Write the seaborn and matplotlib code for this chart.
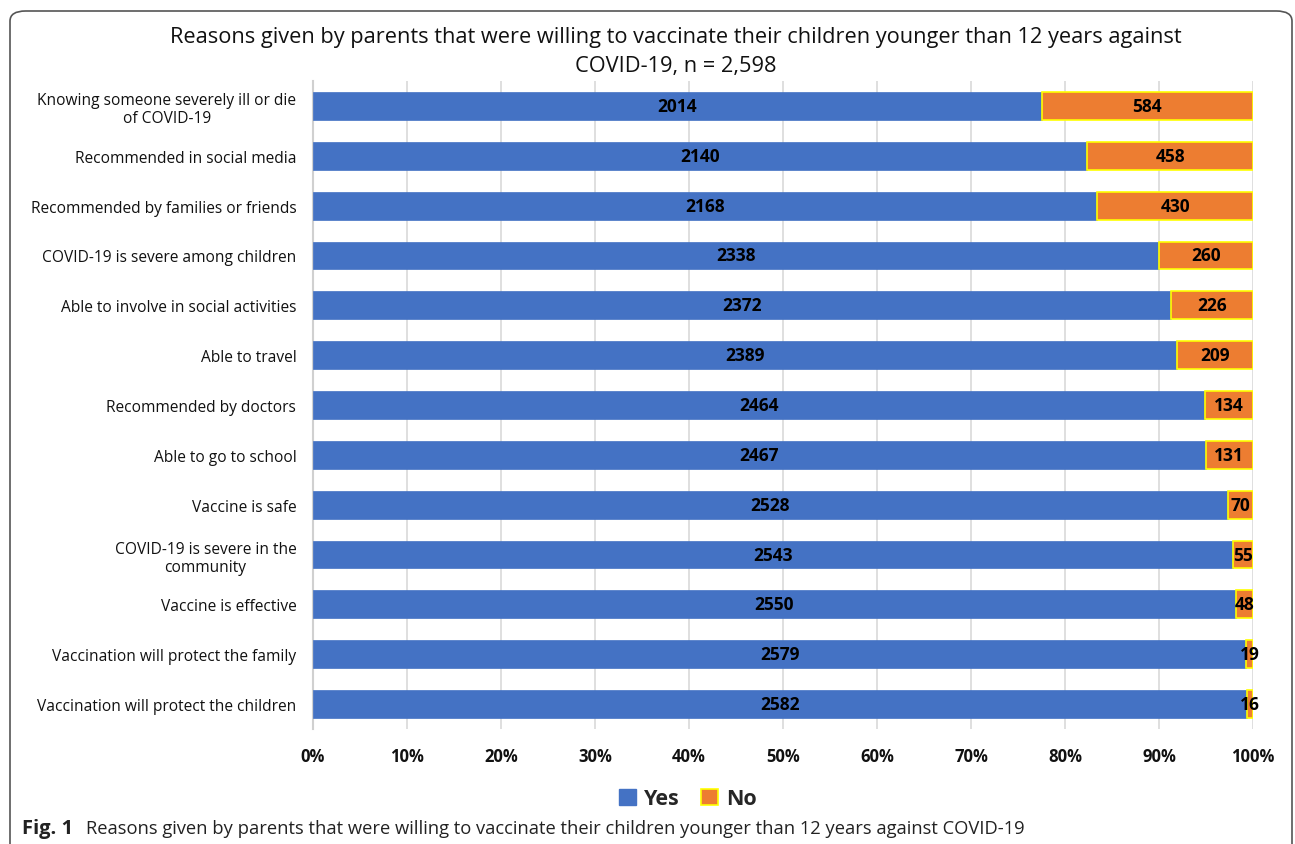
import matplotlib
matplotlib.use("Agg")
import matplotlib.pyplot as plt
from matplotlib.patches import Patch, FancyBboxPatch
from matplotlib.ticker import FuncFormatter
import seaborn as sns
import pandas as pd
import numpy as np

reasons = [
    "Knowing someone severely ill or die\nof COVID-19",
    "Recommended in social media",
    "Recommended by families or friends",
    "COVID-19 is severe among children",
    "Able to involve in social activities",
    "Able to travel",
    "Recommended by doctors",
    "Able to go to school",
    "Vaccine is safe",
    "COVID-19 is severe in the\ncommunity",
    "Vaccine is effective",
    "Vaccination will protect the family",
    "Vaccination will protect the children",
]
yes_counts = [2014, 2140, 2168, 2338, 2372, 2389, 2464, 2467, 2528, 2543, 2550, 2579, 2582]
no_counts = [584, 458, 430, 260, 226, 209, 134, 131, 70, 55, 48, 19, 16]

BLUE = "#4472C4"
ORANGE = "#ED7D31"
YELLOW = "#FFFF00"

df = pd.DataFrame({"reason": reasons, "yes": yes_counts, "no": no_counts})
df["total"] = df["yes"] + df["no"]
df["yes_pct"] = df["yes"] / df["total"] * 100
df["no_pct"] = df["no"] / df["total"] * 100

sns.set_theme(style="white")
plt.rcParams["font.family"] = ["Open Sans", "DejaVu Sans"]

fig = plt.figure(figsize=(12.95, 8.45), dpi=100)
W, H = 1295, 845
ax = fig.add_axes([313 / W, 1 - 730 / H, (1253 - 313) / W, (730 - 82) / H])

bar_h = 0.56
sns.barplot(data=df, x="yes_pct", y="reason", orient="h", color=BLUE,
            width=bar_h, saturation=1, edgecolor=BLUE, linewidth=0.5, ax=ax, zorder=3)
ypos = np.arange(len(df))
ax.barh(ypos, df["no_pct"], left=df["yes_pct"], height=bar_h, color=ORANGE,
        edgecolor=YELLOW, linewidth=1.2, zorder=3)

for i, row in df.iterrows():
    ax.text(row["yes_pct"] / 2, i, f"{row['yes']}", ha="center", va="center",
            fontsize=12.5, fontweight="bold", color="black", zorder=5)
    ax.text(row["yes_pct"] + row["no_pct"] / 2, i, f"{row['no']}", ha="center", va="center",
            fontsize=12.5, fontweight="bold", color="black", zorder=5)

ax.set_xlim(0, 100)
ax.set_ylim(len(df) - 0.5, -0.5)
ax.set_xticks(np.arange(0, 101, 10))
ax.xaxis.set_major_formatter(FuncFormatter(lambda v, p: f"{int(v)}%"))
ax.grid(axis="x", color="#D9D9D9", linewidth=1.2, zorder=0)
ax.set_axisbelow(True)
for s in ["top", "right", "bottom"]:
    ax.spines[s].set_visible(False)
ax.spines["left"].set_color("#D0D0D0")
ax.spines["left"].set_linewidth(1.5)
ax.set_xlabel("")
ax.set_ylabel("")
ax.tick_params(axis="x", length=0, pad=13, labelsize=12)
ax.tick_params(axis="y", length=0, pad=12, labelsize=11.2)
for lbl in ax.get_xticklabels():
    lbl.set_fontweight("bold")
    lbl.set_color("#111111")
for lbl in ax.get_yticklabels():
    lbl.set_multialignment("center")
    lbl.set_color("#111111")

fig.text(676 / W, 1 - 52 / H,
         "Reasons given by parents that were willing to vaccinate their children younger than 12 years against\nCOVID-19, n = 2,598",
         ha="center", va="center", fontsize=15.7, linespacing=1.55, color="#111111")

handles = [Patch(facecolor=BLUE, edgecolor=BLUE, label="Yes"),
           Patch(facecolor=ORANGE, edgecolor=YELLOW, linewidth=1.2, label="No")]
fig.legend(handles=handles, loc="center", bbox_to_anchor=(688 / W, 1 - 800 / H), ncol=2,
           frameon=False, prop={"weight": "bold", "size": 15.5}, handlelength=0.8,
           handleheight=0.8, handletextpad=0.35, columnspacing=1.0)

fig.text(22 / W, 1 - 829 / H, "Fig. 1", ha="left", va="center", fontsize=14.5,
         fontweight="bold", color="#222222")
fig.text(86 / W, 1 - 829 / H,
         "Reasons given by parents that were willing to vaccinate their children younger than 12 years against COVID-19",
         ha="left", va="center", fontsize=13.2, color="#222222")

frame = FancyBboxPatch((10 / W, -0.1), (1292 - 10) / W, (845 - 12) / H + 0.1,
                       boxstyle="round,pad=0,rounding_size=0.012",
                       transform=fig.transFigure, fill=False, edgecolor="#555555",
                       linewidth=1.2, clip_on=False)
fig.patches.append(frame)

fig.savefig("out.png", dpi=100)
